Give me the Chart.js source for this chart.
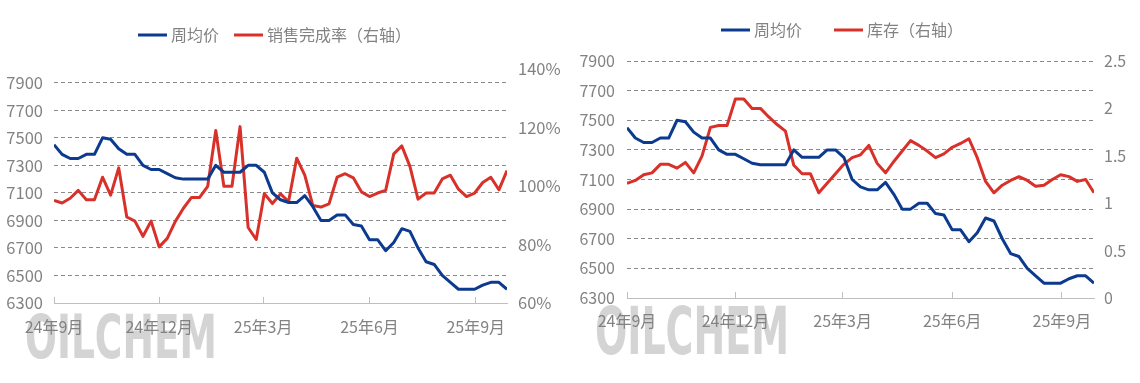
<!DOCTYPE html>
<html><head><meta charset="utf-8">
<script src="https://cdn.jsdelivr.net/npm/chart.js@4.4.1/dist/chart.umd.min.js"></script>
<style>
html,body{margin:0;padding:0;background:#fff;}
#wrap{position:relative;width:1140px;height:383px;overflow:hidden;background:#fff;}
canvas{position:absolute;top:0;}
#c1{left:0}
#c2{left:570px}
</style></head><body>
<div id="wrap"><canvas id="c1" width="570" height="383"></canvas><canvas id="c2" width="570" height="383"></canvas></div>
<script>
// ---- categories (weekly dates) ----
const weekDates = [
 '2024-09-05','2024-09-12','2024-09-19','2024-09-26','2024-10-03','2024-10-10','2024-10-17','2024-10-24','2024-10-31','2024-11-07',
 '2024-11-14','2024-11-21','2024-11-28','2024-12-05','2024-12-12','2024-12-19','2024-12-26','2025-01-02','2025-01-09','2025-01-16',
 '2025-01-23','2025-01-30','2025-02-06','2025-02-13','2025-02-20','2025-02-27','2025-03-06','2025-03-13','2025-03-20','2025-03-27',
 '2025-04-03','2025-04-10','2025-04-17','2025-04-24','2025-05-01','2025-05-08','2025-05-15','2025-05-22','2025-05-29','2025-06-05',
 '2025-06-12','2025-06-19','2025-06-26','2025-07-03','2025-07-10','2025-07-17','2025-07-24','2025-07-31','2025-08-07','2025-08-14',
 '2025-08-21','2025-08-28','2025-09-04','2025-09-11','2025-09-18','2025-09-25','2025-10-02'
];
// ---- series ----
const weeklyPrice = [
 7450,7380,7350,7350,7380,7380,7500,7490,7420,7380,
 7380,7300,7270,7270,7240,7210,7200,7200,7200,7200,
 7300,7250,7250,7250,7300,7300,7250,7100,7050,7030,
 7030,7080,7000,6900,6900,6940,6940,6870,6860,6760,
 6760,6680,6740,6840,6820,6700,6600,6580,6500,6450,
 6400,6400,6400,6430,6450,6450,6400
];
const salesRate = [
 95.1,94.2,95.8,98.5,95.3,95.3,103.0,96.9,106.2,89.4,
 88.0,82.8,88.0,79.2,82.1,87.9,92.4,96.1,96.1,99.9,
 119.0,99.9,99.9,120.3,85.8,81.7,97.4,94.0,97.3,94.7,
 109.5,103.7,93.3,92.8,93.9,103.0,104.2,102.8,98.0,96.4,
 97.6,98.5,111.0,113.7,106.7,95.5,97.6,97.6,102.4,103.7,
 98.9,96.4,97.6,101.2,103.0,98.7,105.3
];
const inventory = [
 1.21,1.24,1.30,1.32,1.41,1.41,1.37,1.43,1.32,1.50,
 1.80,1.82,1.82,2.10,2.10,2.00,2.00,1.91,1.83,1.76,
 1.40,1.31,1.31,1.11,1.21,1.31,1.41,1.48,1.51,1.61,
 1.42,1.32,1.44,1.55,1.66,1.61,1.55,1.48,1.52,1.59,
 1.63,1.68,1.48,1.23,1.11,1.19,1.24,1.28,1.24,1.18,
 1.19,1.25,1.30,1.28,1.23,1.25,1.11
];
// ---- tick labels ----
const xTickDates = ['2024-09-05','2024-12-05','2025-03-05','2025-06-05','2025-09-05'];
const xTickLabels = ['24年9月','24年12月','25年3月','25年6月','25年9月'];
const priceTicks = [6300,6500,6700,6900,7100,7300,7500,7700,7900];
const rateTicks = [60,80,100,120,140];
const invTicks = [0,0.5,1,1.5,2,2.5];
const priceName = '周均价';
const rateName = '销售完成率（右轴）';
const invName = '库存（右轴）';

const BLUE = '#0B3A8E';
const RED = '#D8312A';
const GRAY = '#828282';
const FONT = "'Noto Sans CJK SC', 'Noto Sans', sans-serif";
Chart.defaults.font.family = FONT;
Chart.defaults.color = GRAY;

const t0 = Date.parse(weekDates[0]);
const day = s => (Date.parse(s) - t0) / 86400000;
const pts = arr => weekDates.map((d, i) => ({x: day(d), y: arr[i]}));

const legendPlugin = {
  id: 'manualLegend',
  afterDraw(chart, args, o) {
    const ctx = chart.ctx;
    ctx.save();
    ctx.font = '16px ' + FONT;
    ctx.textBaseline = 'middle';
    ctx.textAlign = 'left';
    chart.data.datasets.forEach((ds, i) => {
      const x = o.xs[i];
      ctx.strokeStyle = ds.borderColor;
      ctx.lineWidth = 3;
      ctx.beginPath();
      ctx.moveTo(x, o.y); ctx.lineTo(x + 29, o.y);
      ctx.stroke();
      ctx.fillStyle = GRAY;
      ctx.fillText(ds.label, x + 33, o.y);
    });
    ctx.restore();
  }
};
const watermarkPlugin = {
  id: 'watermark',
  beforeDraw(chart, args, o) {
    const ctx = chart.ctx;
    ctx.save();
    ctx.font = 'bold ' + o.size + "px 'Liberation Sans Narrow', 'DejaVu Sans Condensed', sans-serif";
    const w = ctx.measureText('OILCHEM').width;
    const g = ctx.createLinearGradient(0, o.base - o.h, 0, o.base);
    g.addColorStop(0, '#d4d4d4');
    g.addColorStop(0.6, '#e9e9e9');
    g.addColorStop(1, '#fbfbfb');
    ctx.fillStyle = g;
    ctx.textBaseline = 'alphabetic';
    ctx.translate(o.x, o.base);
    ctx.scale(o.w / w, 1);
    ctx.fillText('OILCHEM', 0, 0);
    ctx.restore();
  }
};

function makeChart(id, cfg) {
  return new Chart(document.getElementById(id), {
    type: 'line',
    data: {
      datasets: [
        {label: priceName, data: pts(weeklyPrice), borderColor: BLUE, backgroundColor: BLUE, borderWidth: 3, pointRadius: 0, tension: 0, yAxisID: 'y', borderJoinStyle: 'round'},
        {label: cfg.rName, data: pts(cfg.rData), borderColor: RED, backgroundColor: RED, borderWidth: 3, pointRadius: 0, tension: 0, yAxisID: 'y1', borderJoinStyle: 'round'}
      ]
    },
    plugins: [watermarkPlugin, legendPlugin],
    options: {
      responsive: false,
      animation: false,
      layout: {padding: {top: cfg.top, left: 0, right: 0, bottom: 0}},
      plugins: {
        legend: {display: false},
        tooltip: {enabled: false},
        manualLegend: cfg.legend,
        watermark: cfg.wm
      },
      scales: {
        x: {
          type: 'linear', min: 0, max: day(weekDates[weekDates.length - 1]),
          afterBuildTicks: s => { s.ticks = xTickDates.map(d => ({value: day(d)})); },
          ticks: {autoSkip: false, maxRotation: 0, padding: cfg.xPad, font: {size: 16}, color: GRAY,
                  callback: (v, i) => xTickLabels[i]},
          grid: {drawOnChartArea: false, drawTicks: true, tickLength: -6, color: '#bfbfbf', lineWidth: 1},
          border: {display: true, color: '#bfbfbf', width: 1},
          afterFit: s => { s.height = cfg.xH; }
        },
        y: {
          position: 'left', min: 6300, max: cfg.yMax,
          afterBuildTicks: s => { s.ticks = priceTicks.map(v => ({value: v})); },
          ticks: {autoSkip: false, padding: cfg.yPad, font: {size: cfg.yFont}, color: GRAY, callback: v => String(v)},
          grid: {drawTicks: false, lineWidth: 1, color: c => (c.tick && c.tick.value === 6300) ? 'rgba(0,0,0,0)' : '#8a8a8a'},
          border: {display: false, dash: [4, 3]},
          afterFit: s => { s.width = cfg.yW; }
        },
        y1: {
          position: 'right', min: cfg.rTicks[0], max: cfg.rTicks[cfg.rTicks.length - 1],
          afterBuildTicks: s => { s.ticks = cfg.rTicks.map(v => ({value: v})); },
          ticks: {autoSkip: false, padding: cfg.y1Pad, font: {size: cfg.yFont}, color: GRAY, callback: cfg.rFmt},
          grid: {drawOnChartArea: false, drawTicks: false},
          border: {display: false},
          afterFit: s => { s.width = cfg.y1W; }
        }
      }
    }
  });
}

makeChart('c1', {
  rName: rateName, rData: salesRate, rTicks: rateTicks, rFmt: v => v + '%',
  top: 69, yMax: 8000, yW: 54, y1W: 63, xH: 80, xPad: 20, yPad: 11, y1Pad: 11, yFont: 16.5,
  legend: {xs: [138, 234], y: 35},
  wm: {x: 25, base: 358, w: 192, h: 44, size: 61}
});
makeChart('c2', {
  rName: invName, rData: inventory, rTicks: invTicks, rFmt: v => String(v),
  top: 61, yMax: 7900, yW: 57, y1W: 46, xH: 85, xPad: 19, yPad: 12, y1Pad: 10, yFont: 16,
  legend: {xs: [151, 264], y: 30},
  wm: {x: 25, base: 354, w: 194, h: 47, size: 65}
});
</script>
</body></html>
